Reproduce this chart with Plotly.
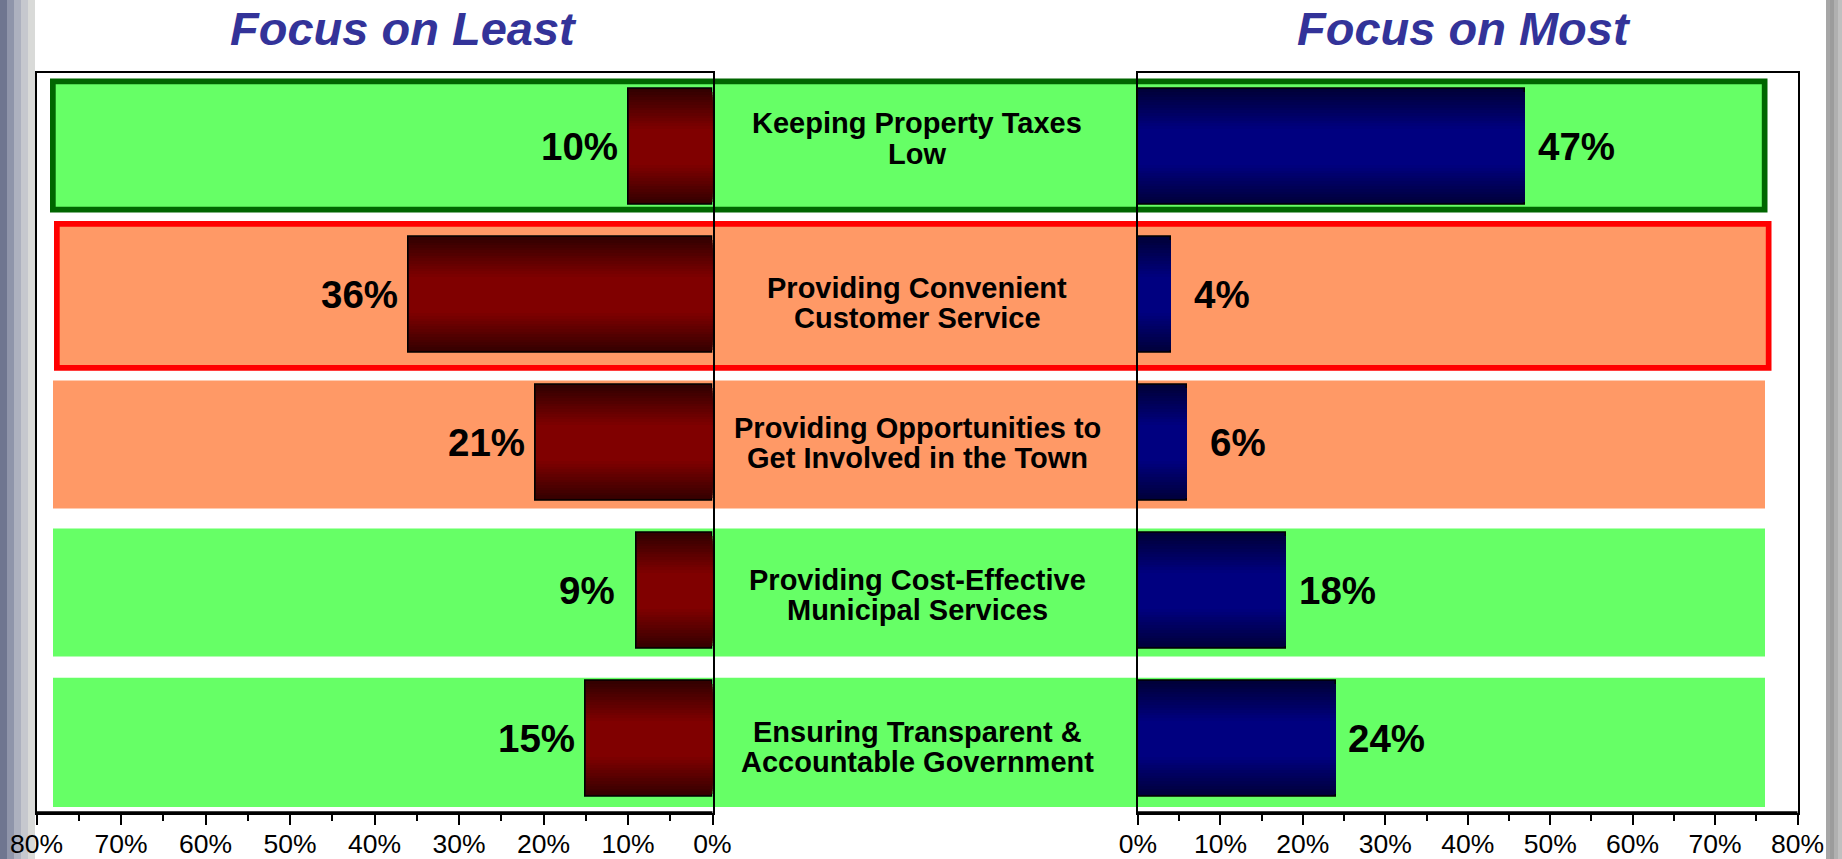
import plotly.graph_objects as go

# ---------------- data ----------------
categories = [
    "Keeping Property Taxes Low",
    "Providing Convenient Customer Service",
    "Providing Opportunities to Get Involved in the Town",
    "Providing Cost-Effective Municipal Services",
    "Ensuring Transparent & Accountable Government",
]
label_line1 = ["Keeping Property Taxes", "Providing Convenient", "Providing Opportunities to",
               "Providing Cost-Effective", "Ensuring Transparent &"]
label_line2 = ["Low", "Customer Service", "Get Involved in the Town",
               "Municipal Services", "Accountable Government"]
focus_least = [10, 36, 21, 9, 15]
focus_most = [47, 4, 6, 18, 24]
tick_values = [0, 10, 20, 30, 40, 50, 60, 70, 80]
tick_labels = ["0%", "10%", "20%", "30%", "40%", "50%", "60%", "70%", "80%"]
minor_tick_values = [5, 15, 25, 35, 45, 55, 65, 75]
panel_titles = ["Focus on Least", "Focus on Most"]

# ---------------- styling ----------------
W, H = 1842, 859
FONT = "Arial, Liberation Sans, sans-serif"
band_fill = ["#66FF66", "#FF9966", "#FF9966", "#66FF66", "#66FF66"]
band_line = ["#006600", "#FF0000", None, None, None]
# band outer pixel boxes (x0, y0, x1, y1)
band_px = [(50, 78.5, 1767.5, 212.5), (54, 221, 1771.5, 370.7), (53, 380.6, 1765, 508.6),
           (53, 528.6, 1765, 656.6), (53, 677.8, 1765, 807)]
label_dy = [-8, 8, 0, 4, 8]


def px(x):
    return x / W


def py(y):
    return 1 - y / H


def mix(c0, c1, t):
    return "rgb(%d,%d,%d)" % tuple(round(a + (b - a) * t) for a, b in zip(c0, c1))


fig = go.Figure()

BAR_W = 0.78
N = 22
maroon_edge, maroon_mid = (0x34, 0, 0), (0x80, 0, 0)
navy_edge, navy_mid = (0, 0, 0x3A), (0, 0, 0x80)
for i in range(N):
    d = 1 - i / N  # relative half-height of this layer
    t = min(1.0, (1 - d) / 0.68)
    w = BAR_W * d
    line = dict(color="black", width=1.5) if i == 0 else dict(width=0)
    fig.add_trace(go.Bar(y=categories, x=focus_least, orientation="h", width=w,
                         marker=dict(color=mix(maroon_edge, maroon_mid, t), line=line),
                         xaxis="x", yaxis="y", showlegend=False, hoverinfo="skip" if i else None))
    fig.add_trace(go.Bar(y=categories, x=focus_most, orientation="h", width=w,
                         marker=dict(color=mix(navy_edge, navy_mid, t), line=line),
                         xaxis="x2", yaxis="y2", showlegend=False, hoverinfo="skip" if i else None))

ydom = [py(812.7), py(72.7)]
axis_common = dict(tickvals=tick_values, ticktext=tick_labels, ticks="outside", ticklen=10,
                   tickwidth=2, tickcolor="black", showline=True, linecolor="black", linewidth=2,
                   mirror=True, showgrid=False, zeroline=False, fixedrange=True, automargin=False,
                   ticklabelstandoff=-4,
                   tickfont=dict(family=FONT, size=26.5, color="black"),
                   minor=dict(tickvals=minor_tick_values, ticks="outside", ticklen=6,
                              tickwidth=1.5, tickcolor="black"))
yaxis_common = dict(type="category", categoryarray=categories, range=[4.5, -0.5],
                    showticklabels=False, ticks="", showline=True, linecolor="black",
                    linewidth=2, mirror=True, showgrid=False, zeroline=False, fixedrange=True,
                    automargin=False)

fig.update_layout(
    width=W, height=H, autosize=False,
    margin=dict(l=0, r=0, t=0, b=0, pad=0, autoexpand=False),
    paper_bgcolor="white", plot_bgcolor="rgba(0,0,0,0)",
    barmode="overlay", bargap=0,
    xaxis=dict(domain=[px(36.5), px(712.5)], range=[80, 0], anchor="y", **axis_common),
    xaxis2=dict(domain=[px(1138), px(1797.5)], range=[0, 80], anchor="y2", **axis_common),
    yaxis=dict(domain=ydom, anchor="x", **yaxis_common),
    yaxis2=dict(domain=ydom, anchor="x2", matches="y", **yaxis_common),
)

shapes = []
# slide frame decorations (left and right edges)
left_strip = ["#6f7690", "#8f95aa", "#adb1bf", "#c6c8ce", "#d9dad8"]
for k, c in enumerate(left_strip):
    shapes.append(dict(type="rect", xref="paper", yref="paper", x0=px(k * 7), x1=px(k * 7 + 7),
                       y0=0, y1=1, fillcolor=c, line=dict(width=0), layer="below"))
right_strip = ["#a6a6a6", "#9c9c9c", "#b0b0b0", "#c0c0c0"]
for k, c in enumerate(right_strip):
    shapes.append(dict(type="rect", xref="paper", yref="paper", x0=px(1826 + k * 4),
                       x1=px(1830 + k * 4) if k < 3 else 1, y0=0, y1=1, fillcolor=c,
                       line=dict(width=0), layer="below"))
# category highlight bands
for (x0, y0, x1, y1), fill, ln in zip(band_px, band_fill, band_line):
    if ln:
        lw = 5.7
        shapes.append(dict(type="rect", xref="paper", yref="paper",
                           x0=px(x0 + lw / 2), x1=px(x1 - lw / 2), y0=py(y1 - lw / 2), y1=py(y0 + lw / 2),
                           fillcolor=fill, line=dict(color=ln, width=lw), layer="below"))
    else:
        shapes.append(dict(type="rect", xref="paper", yref="paper", x0=px(x0), x1=px(x1),
                           y0=py(y1), y1=py(y0), fillcolor=fill, line=dict(width=0), layer="below"))
# slightly heavier bottom axis lines, as in the reference
for x0, x1 in ((36.5, 712.5), (1138, 1797.5)):
    shapes.append(dict(type="line", xref="paper", yref="paper", x0=px(x0), x1=px(x1),
                       y0=py(812.7), y1=py(812.7), line=dict(color="black", width=3)))
fig.update_layout(shapes=shapes)

ann = []
# panel titles
for title, xc in zip(panel_titles, [403, 1464]):
    ann.append(dict(text=title, x=px(xc), y=py(28.5), xref="paper", yref="paper",
                    xanchor="center", yanchor="middle", showarrow=False,
                    font=dict(family=FONT, size=47, color="#333399", weight="bold", style="italic")))
# category labels in the middle
for cat, l1, l2, dy in zip(categories, label_line1, label_line2, label_dy):
    for txt, off in ((l1, -15.2), (l2, 15.2)):
        ann.append(dict(text=txt, x=px(917), xref="paper", y=cat, yref="y",
                        xanchor="center", yanchor="middle", yshift=-(off + dy), showarrow=False,
                        font=dict(family=FONT, size=29, color="black", weight="bold")))
# value labels
for cat, v in zip(categories, focus_least):
    ann.append(dict(text=f"{v}%", x=v, y=cat, xref="x", yref="y", xanchor="center",
                    yanchor="middle", xshift=-49, showarrow=False,
                    font=dict(family=FONT, size=38.5, color="black", weight="bold")))
for cat, v in zip(categories, focus_most):
    ann.append(dict(text=f"{v}%", x=v, y=cat, xref="x2", yref="y2", xanchor="center",
                    yanchor="middle", xshift=51, showarrow=False,
                    font=dict(family=FONT, size=38.5, color="black", weight="bold")))
fig.update_layout(annotations=ann)

fig.write_html("out.html", config={"displayModeBar": False},
               post_script="document.body.style.margin='0';document.body.style.overflow='hidden';")
